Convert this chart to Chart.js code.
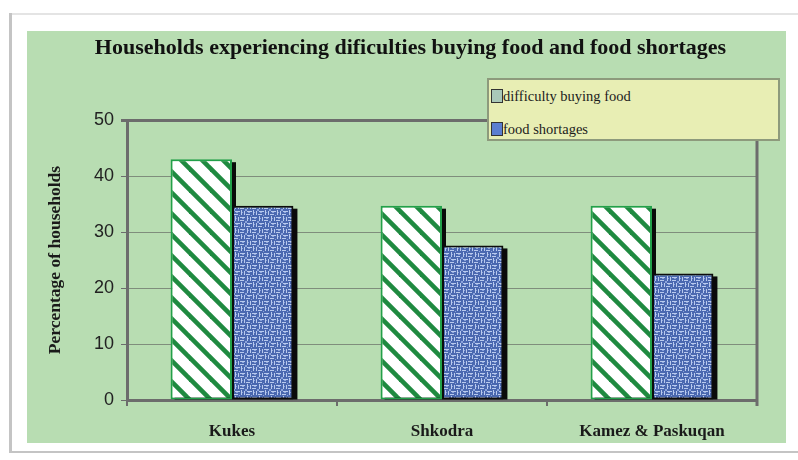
<!DOCTYPE html>
<html>
<head>
<meta charset="utf-8">
<script src="https://cdn.jsdelivr.net/npm/chart.js@4/dist/chart.umd.min.js"></script>
<style>
  body { margin: 0; background: #fff; }
  #wrap { position: relative; width: 798px; height: 460px; }
  #legend {
    position: absolute; left: 487px; top: 78px; width: 293px; height: 63px;
    box-sizing: border-box; background: #e8eeb4; border: 2px solid #8d9a7c;
    font-family: "Liberation Serif", serif; font-size: 14.5px; color: #1c1c1c;
  }
  #legend .item { position: absolute; left: 2px; height: 16px; line-height: 16px; white-space: nowrap; }
  #legend .sw {
    display: inline-block; width: 12px; height: 14px; vertical-align: -2px;
    border: 1px solid #333; box-sizing: border-box;
  }
</style>
</head>
<body>
<div id="wrap">
  <canvas id="chart" width="798" height="460"></canvas>
  <div id="legend"></div>
</div>
<script>
const categories = ["Kukes", "Shkodra", "Kamez & Paskuqan"];
const difficultyBuyingFood = [43, 34.7, 34.7];
const foodShortages = [34.7, 27.6, 22.6];
const seriesNames = ["difficulty buying food", "food shortages"];
const yMin = 0, yMax = 50, yStep = 10;

const swatchColors = ["#a9c8b8", "#5b7ed0"];

function stripePattern() {
  const c = document.createElement("canvas");
  c.width = 21; c.height = 21;
  const g = c.getContext("2d");
  g.fillStyle = "#ffffff";
  g.fillRect(0, 0, 21, 21);
  g.strokeStyle = "#1f8a40";
  g.lineWidth = 4.6;
  for (let k = -1; k <= 1; k++) {
    g.beginPath();
    g.moveTo(k * 21 - 2, -2);
    g.lineTo(k * 21 + 23, 23);
    g.stroke();
  }
  return g.createPattern(c, "repeat");
}

// basket weave texture for the food shortages bars
function weavePattern() {
  const c = document.createElement("canvas");
  c.width = 12; c.height = 12;
  const g = c.getContext("2d");
  g.fillStyle = "#4a68b0";
  g.fillRect(0, 0, 12, 12);
  g.fillStyle = "#b9caee";
  // horizontal strands
  g.fillRect(0, 1, 5, 1);
  g.fillRect(0, 4, 4, 1);
  g.fillRect(7, 7, 5, 1);
  g.fillRect(6, 10, 4, 1);
  // vertical strands
  g.fillRect(7, 0, 1, 5);
  g.fillRect(10, 1, 1, 4);
  g.fillRect(1, 6, 1, 5);
  g.fillRect(4, 7, 1, 4);
  g.fillStyle = "#8ba3db";
  g.fillRect(2, 2, 2, 1);
  g.fillRect(8, 8, 2, 1);
  g.fillRect(8, 2, 1, 1);
  g.fillRect(2, 8, 1, 1);
  g.fillRect(5, 5, 2, 2);
  g.fillRect(11, 11, 1, 1);
  return g.createPattern(c, "repeat");
}

// page frame + green panel behind the chart
const panelBg = {
  id: "panelBg",
  beforeDraw(chart) {
    const ctx = chart.ctx;
    ctx.save();
    ctx.fillStyle = "#ffffff";
    ctx.fillRect(0, 0, chart.width, chart.height);
    ctx.fillStyle = "#e4e4e4";
    ctx.fillRect(10, 13, chart.width - 10, 2);
    ctx.fillStyle = "#c4c4c4";
    ctx.fillRect(9, 13, 3, 440);
    ctx.fillRect(9, 451, chart.width - 9, 2);
    ctx.fillStyle = "#b8ddb2";
    ctx.fillRect(27, 31, 759, 412);
    ctx.restore();
  }
};

// drop shadow behind bars, right border of plot
const barShadow = {
  id: "barShadow",
  beforeDatasetsDraw(chart) {
    const ctx = chart.ctx;
    const a = chart.chartArea;
    ctx.save();
    ctx.fillStyle = "#0a0a0a";
    chart.data.datasets.forEach((ds, i) => {
      chart.getDatasetMeta(i).data.forEach(bar => {
        const p = bar.getProps(["x", "y", "base", "width"], true);
        ctx.fillRect(p.x - p.width / 2 + 4, p.y + 3, p.width, p.base - p.y - 3);
      });
    });
    ctx.strokeStyle = "#6c6c6c";
    ctx.lineWidth = 3;
    ctx.beginPath();
    ctx.moveTo(a.right, a.top - 1);
    ctx.lineTo(a.right, a.bottom + 6);
    ctx.stroke();
    ctx.restore();
  }
};

const serif = "'Liberation Serif', 'Times New Roman', serif";

const chart = new Chart(document.getElementById("chart"), {
  type: "bar",
  data: {
    labels: categories,
    datasets: [
      {
        label: seriesNames[0],
        data: difficultyBuyingFood,
        backgroundColor: stripePattern(),
        borderColor: "#22a04a",
        borderWidth: 2,
        borderSkipped: false
      },
      {
        label: seriesNames[1],
        data: foodShortages,
        backgroundColor: weavePattern(),
        borderColor: "#0c0c0c",
        borderWidth: 2,
        borderSkipped: false
      }
    ]
  },
  options: {
    responsive: false,
    animation: false,
    devicePixelRatio: 1,
    categoryPercentage: 0.585,
    barPercentage: 1.0,
    layout: { padding: { left: 45, right: 22, top: 0, bottom: 0 } },
    plugins: {
      legend: { display: false },
      tooltip: { enabled: false },
      title: {
        display: true,
        text: "Households experiencing dificulties buying food and food shortages",
        font: { family: serif, size: 22, weight: "bold" },
        color: "#111",
        padding: { top: 35, bottom: 58.6 }
      }
    },
    scales: {
      x: {
        grid: {
          offset: true,
          drawOnChartArea: false,
          drawTicks: true,
          tickLength: 6,
          color: "#6c6c6c",
          lineWidth: 2
        },
        border: { color: "#6c6c6c", width: 3 },
        ticks: {
          font: { family: serif, size: 17, weight: "bold" },
          color: "#1a1a1a",
          padding: 15
        },
        afterFit(scale) { scale.height = 60; }
      },
      y: {
        min: yMin,
        max: yMax,
        ticks: {
          stepSize: yStep,
          font: { family: "'Liberation Sans', Arial, sans-serif", size: 18 },
          color: "#222",
          padding: 7
        },
        grid: {
          drawTicks: true,
          tickLength: 6,
          color: ctx => (ctx.tick && ctx.tick.value === yMax ? "#6c6c6c" : "#7f8d7c"),
          lineWidth: ctx => (ctx.tick && ctx.tick.value === yMax ? 3 : 1),
          tickColor: "#6c6c6c"
        },
        border: { color: "#6c6c6c", width: 3 },
        title: {
          display: true,
          text: "Percentage of households",
          font: { family: serif, size: 17.5, weight: "bold" },
          color: "#1a1a1a",
          padding: { top: 0, bottom: 0 }
        },
        afterFit(scale) { scale.width = 82; }
      },
      y2: {
        position: "right",
        display: true,
        ticks: { display: false },
        grid: { display: false },
        border: { display: false },
        afterFit(scale) { scale.width = 19; }
      }
    }
  },
  plugins: [panelBg, barShadow]
});

// legend built from the chart's datasets
const legendEl = document.getElementById("legend");
chart.data.datasets.forEach((ds, i) => {
  const item = document.createElement("div");
  item.className = "item";
  item.style.top = (i === 0 ? 8 : 41) + "px";
  const sw = document.createElement("span");
  sw.className = "sw";
  sw.style.background = swatchColors[i];
  item.appendChild(sw);
  item.appendChild(document.createTextNode(ds.label));
  legendEl.appendChild(item);
});
</script>
</body>
</html>
